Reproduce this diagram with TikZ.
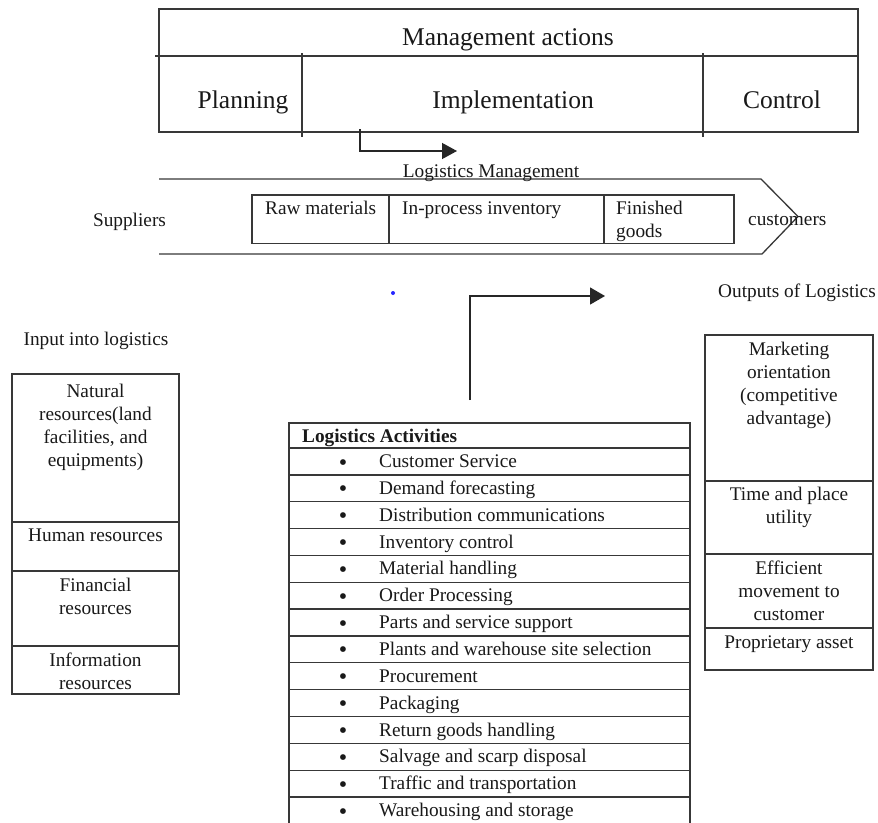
\documentclass[tikz,border=0pt]{standalone}
\usepackage{fontspec}
\setmainfont{Liberation Serif}
\usetikzlibrary{arrows.meta}
\newcommand\bodyfont{\fontsize{19.3}{23}\selectfont}
\newcommand\headfont{\fontsize{25.5}{30}\selectfont}
\begin{document}
\begin{tikzpicture}[x=1pt,y=-1pt,
  rule/.style={draw=black!78, line width=1.3pt},
  cellbox/.style={rule, rectangle, anchor=north west, inner sep=0pt, outer sep=0pt},
  txt/.style={inner sep=0pt, text=black!90, font=\bodyfont},
  headtxt/.style={txt, font=\headfont, anchor=base},
  block/.style={txt, anchor=north, align=center},
  flow/.style={rule, draw=black!85, -{Triangle[length=15pt,width=16pt]}}
]
\useasboundingbox (0,0) rectangle (878,822);
\fill[white] (0,0) rectangle (878,822);

% ---- management actions table ----
\node[cellbox, minimum width=699pt, minimum height=123pt] (mgmt) at (159,9) {};
\coordinate (divL) at (155,56);
\coordinate (divR) at (858,56);
\draw[rule] (divL) -- (divR);
\coordinate (planTop) at (302,53);
\coordinate (planBot) at (302,137);
\coordinate (ctrlTop) at (703,53);
\coordinate (ctrlBot) at (703,137);
\draw[rule] (planTop) -- (planBot);
\draw[rule] (ctrlTop) -- (ctrlBot);
\node[headtxt] (mact) at (508,45) {Management actions};
\node[headtxt] (plan) at (243,108) {Planning};
\node[headtxt] (impl) at (513,108) {Implementation};
\node[headtxt] (ctrl) at (782,108) {Control};

% ---- arrow down to logistics management ----
\coordinate (implDrop) at (360,129);
\coordinate (lmEnd) at (457,151);
\draw[flow] (implDrop) |- (lmEnd);

% ---- logistics management band ----
\coordinate (bTL) at (159,179);
\coordinate (bTR) at (761,179);
\coordinate (bTip) at (798,216.5);
\coordinate (bBR) at (762,254);
\coordinate (bBL) at (159,254);
\draw[rule, line join=miter] (bTL) -- (bTR) -- (bTip) -- (bBR) -- (bBL);
\node[txt, anchor=base] (lm) at (491,177) {Logistics Management};

\node[cellbox, minimum width=137pt, minimum height=48.5pt] (raw) at (252,195) {};
\node[cellbox, minimum width=215pt, minimum height=48.5pt] (wip) at (389,195) {};
\node[cellbox, minimum width=130pt, minimum height=48.5pt] (fin) at (604,195) {};
\node[txt, anchor=base west] (rawT) at (265,214.5) {Raw materials};
\node[txt, anchor=base west] (wipT) at (402,214.5) {In-process inventory};
\node[txt, anchor=north west, align=left] (finT) at (616,198.4) {\strut Finished\\goods};
\node[txt, anchor=base] (sup) at (129.5,226) {Suppliers};
\node[txt, anchor=base west] (cust) at (748,225) {customers};

\fill[blue!85] (393,293) circle (2pt);

% ---- inputs ----
\node[txt, anchor=base] (inT) at (96,345) {Input into logistics};
\node[cellbox, minimum width=167pt, minimum height=148pt] (in1) at (12,374) {};
\node[cellbox, minimum width=167pt, minimum height=49pt] (in2) at (12,522) {};
\node[cellbox, minimum width=167pt, minimum height=75pt] (in3) at (12,571) {};
\node[cellbox, minimum width=167pt, minimum height=48pt] (in4) at (12,646) {};
\node[block] (in1T) at (95.5,381) {\strut Natural\\resources(land\\facilities, and\\equipments)};
\node[block] (in2T) at (95.5,525) {\strut Human resources};
\node[block] (in3T) at (95.5,575) {\strut Financial\\resources};
\node[block] (in4T) at (95.5,650) {\strut Information\\resources};

% ---- outputs ----
\node[txt, anchor=base] (outT) at (797,297) {Outputs of Logistics};
\node[cellbox, minimum width=168pt, minimum height=146pt] (out1) at (705,335) {};
\node[cellbox, minimum width=168pt, minimum height=73pt] (out2) at (705,481) {};
\node[cellbox, minimum width=168pt, minimum height=74pt] (out3) at (705,554) {};
\node[cellbox, minimum width=168pt, minimum height=42pt] (out4) at (705,628) {};
\node[block] (out1T) at (789,339) {\strut Marketing\\orientation\\(competitive\\advantage)};
\node[block] (out2T) at (789,484) {\strut Time and place\\utility};
\node[block] (out3T) at (789,558) {\strut Efficient\\movement to\\customer};
\node[block] (out4T) at (789,632) {\strut Proprietary asset};

% ---- activities table ----
\node[cellbox, minimum width=401pt, minimum height=25pt] (acthead) at (289,423) {};
\node[txt, anchor=base west, font=\bodyfont\bfseries] (actT) at (302,442) {Logistics Activities};
\foreach \t [count=\i] in {Customer Service, Demand forecasting, Distribution communications,
  Inventory control, Material handling, Order Processing, Parts and service support,
  Plants and warehouse site selection, Procurement, Packaging, Return goods handling,
  Salvage and scarp disposal, Traffic and transportation, Warehousing and storage} {
  \pgfmathsetmacro\rowtop{448+(\i-1)*26.85}
  \node[cellbox, minimum width=401pt, minimum height=26.85pt] (act\i) at (289,\rowtop) {};
  \node[txt, anchor=base, font=\fontsize{24}{24}\selectfont] (bul\i) at (343,\rowtop+22) {\textbullet};
  \node[txt, anchor=base west] (lbl\i) at (379,\rowtop+19.5) {\t};
}

% ---- arrow from activities to outputs ----
\coordinate (actUp) at (470,400);
\coordinate (outEnd) at (605,296);
\draw[flow, -{Triangle[length=15pt,width=17pt]}] (actUp) |- (outEnd);
\end{tikzpicture}
\end{document}
